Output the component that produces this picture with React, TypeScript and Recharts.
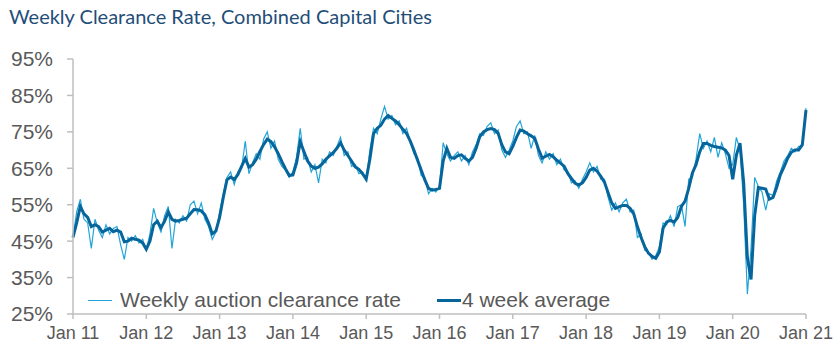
import React from 'react';
import { LineChart, Line, XAxis, YAxis, Legend } from 'recharts';

// samples every 0.05 of a year (about 2.6 weeks), starting Jan 2011
const START_YEAR = 2011;
const STEP = 0.05;

const weeklyRate = [
  46, 53, 56.5, 51, 50, 43, 51, 48, 46, 49.5, 47, 48.5, 49, 44, 40, 46, 45, 46.5, 44.5, 45.5, // 2011
  42.5, 47, 54, 50, 47.5, 52, 54.5, 43, 51, 50, 52, 50.5, 55, 56, 52.5, 55.5, 51, 49, 45.5, 47.5, // 2012
  53, 58, 62.5, 64, 60.5, 64, 65, 72.5, 63.5, 66.5, 69, 67.5, 73, 75, 70.5, 72.5, 67.5, 65.5, 64.5, 62.5, // 2013
  64, 68, 76, 67.5, 68, 64, 66, 61, 67.5, 66.5, 69.5, 68.5, 71, 73.5, 68.5, 69.5, 65.5, 66, 63.5, 64, // 2014
  61.5, 70, 76, 74.5, 78.5, 82, 78.5, 79.5, 77, 78, 74.5, 76, 72.5, 69, 68, 63, 62.5, 58, 59.5, 58.5, // 2015
  60, 72, 69, 67, 68.5, 69.5, 67, 68.5, 66, 69.5, 71.5, 74.5, 74, 76.5, 77.5, 74.5, 75.5, 70, 68, 70, // 2016
  72.5, 76.5, 78, 74.5, 75, 70.5, 74, 68.5, 66.5, 69.5, 67.5, 69, 66, 67.5, 64.5, 64, 61, 61.5, 59.5, 62, // 2017
  64, 66.5, 64, 65.5, 62, 62, 57, 53.5, 55.5, 53, 55.5, 56.5, 53, 53.5, 46, 47, 42.5, 42, 40, 41, // 2018
  43.5, 50, 49.5, 52, 49, 54.5, 55, 49, 62, 62.5, 67.5, 74.5, 70.5, 72.5, 69.5, 73.5, 68, 72, 69, 65, // 2019
  66, 73.5, 70, 55, 30.5, 43, 62.5, 60, 58.5, 53.5, 58, 57.5, 61.5, 64, 67, 68.5, 70.5, 69.5, 71, 71, // 2020
  81.5, // Jan 2021
];

const fourWeekAvg = [
  46, 50, 54.5, 52.5, 51.5, 49, 49.5, 49, 47.5, 48, 48.5, 47.6, 48, 47.5, 44.8, 45, 45.8, 45.5, 45.3, 44.5, // 2011
  42.8, 45, 49.5, 50.5, 48.7, 50.5, 53, 51, 50.5, 50.7, 51, 51.3, 52.5, 53.7, 53.6, 53.3, 52.2, 50, 47, 47.8, // 2012
  51.5, 57, 61.8, 62.6, 61.9, 63.3, 65.5, 67.7, 65.3, 66, 67.5, 69.6, 71.5, 73, 72.3, 70.9, 69, 66.8, 64.8, 63, // 2013
  63.2, 66.5, 72.3, 69.6, 67, 65.6, 65, 65.3, 66.2, 67.5, 68.4, 69.3, 70.5, 72, 70, 68.5, 67, 65.4, 64.7, 63.5, // 2014
  62, 67.5, 74.5, 76, 76.8, 78.5, 79.5, 78.7, 78, 77, 75.7, 74.6, 72.5, 70, 67.3, 64.5, 61.8, 59.5, 59, 59.2, // 2015
  59.5, 67, 70.5, 68, 67.7, 68.5, 68.7, 67.7, 67, 68, 70.5, 73.7, 75, 75.6, 75.9, 75.6, 74.6, 71.5, 69.5, 69, // 2016
  71, 73.5, 75.5, 75.2, 74.5, 73.9, 73.2, 70.3, 67.8, 68.3, 68.8, 68.2, 67.2, 66.4, 65.6, 63.6, 62.2, 60.9, 60.4, 61, // 2017
  62.5, 64.5, 65, 64.2, 62.8, 61.2, 58.3, 55.5, 54, 54.4, 54.8, 54.8, 54, 52.5, 49, 46, 43.5, 41.7, 40.8, 40.3, // 2018
  42, 48.5, 50.3, 50.7, 50.2, 51.5, 54.5, 56, 59.5, 63.7, 66, 69.5, 71.8, 71.8, 71.3, 71, 70.8, 70.6, 70, 68.5, // 2019
  62, 68.6, 71.9, 61, 40.5, 34.5, 52, 59.7, 59.5, 59.3, 56.5, 57, 59.8, 63.2, 65.4, 67.8, 69.4, 70, 70, 71.5, // 2020
  81, // Jan 2021
];

const yearTicks = [2011, 2012, 2013, 2014, 2015, 2016, 2017, 2018, 2019, 2020, 2021];
const pctTicks = [25, 35, 45, 55, 65, 75, 85, 95];

const data = weeklyRate.map((w, i) => ({
  t: Math.round((START_YEAR + i * STEP) * 100) / 100,
  weekly: w,
  avg: fourWeekAvg[i],
}));

const LIGHT = '#22a4d9';
const DARK = '#06659b';
const AXIS = '#bfbfbf';
const LABEL = '#595959';
const font = '"Liberation Sans", Arial, sans-serif';

const renderLegend = () => (
  <div style={{ display: 'flex', alignItems: 'center', fontFamily: font, fontSize: 21, lineHeight: '24px', color: LABEL, whiteSpace: 'nowrap' }}>
    <span style={{ display: 'inline-block', width: 24, borderTop: `1.5px solid ${LIGHT}`, marginRight: 8 }} />
    <span>Weekly auction clearance rate</span>
    <span style={{ display: 'inline-block', width: 24, borderTop: `3px solid ${DARK}`, marginLeft: 36, marginRight: 1 }} />
    <span>4 week average</span>
  </div>
);

export default function App() {
  return (
    <div style={{ position: 'absolute', left: 0, top: 0, width: 840, height: 355, background: '#fff' }}>
      <div style={{ position: 'absolute', left: 9, top: 4, fontFamily: 'Lato, sans-serif', fontSize: 20, color: '#1f4e79', whiteSpace: 'nowrap' }}>
        Weekly Clearance Rate, Combined Capital Cities
      </div>
      <LineChart width={840} height={355} data={data} margin={{ top: 59, right: 34, bottom: 11, left: 0 }}>
        <XAxis
          dataKey="t"
          type="number"
          domain={[2011, 2021]}
          ticks={yearTicks}
          interval={0}
          tickFormatter={(v: number) => `Jan ${String(v).slice(2)}`}
          height={30}
          tickSize={5}
          tickMargin={7}
          stroke={AXIS}
          axisLine={{ stroke: AXIS, strokeWidth: 1.5 }}
          tickLine={{ stroke: AXIS, strokeWidth: 1.5 }}
          tick={{ fill: LABEL, fontSize: 18, fontFamily: font }}
        />
        <YAxis
          domain={[25, 95]}
          ticks={pctTicks}
          interval={0}
          tickFormatter={(v: number) => `${v}%`}
          width={73}
          tickSize={6}
          tickMargin={14}
          stroke={AXIS}
          axisLine={{ stroke: AXIS, strokeWidth: 1.5 }}
          tickLine={{ stroke: AXIS, strokeWidth: 1.5 }}
          tick={{ fill: LABEL, fontSize: 21, fontFamily: font }}
        />
        <Legend
          layout="horizontal"
          verticalAlign="middle"
          align="center"
          content={renderLegend}
          wrapperStyle={{ left: 88, top: 288, width: 'auto' }}
        />
        <Line type="linear" dataKey="weekly" stroke={LIGHT} strokeWidth={1.2} dot={false} activeDot={false} isAnimationActive={false} />
        <Line type="linear" dataKey="avg" stroke={DARK} strokeWidth={3} dot={false} activeDot={false} isAnimationActive={false} />
      </LineChart>
    </div>
  );
}
